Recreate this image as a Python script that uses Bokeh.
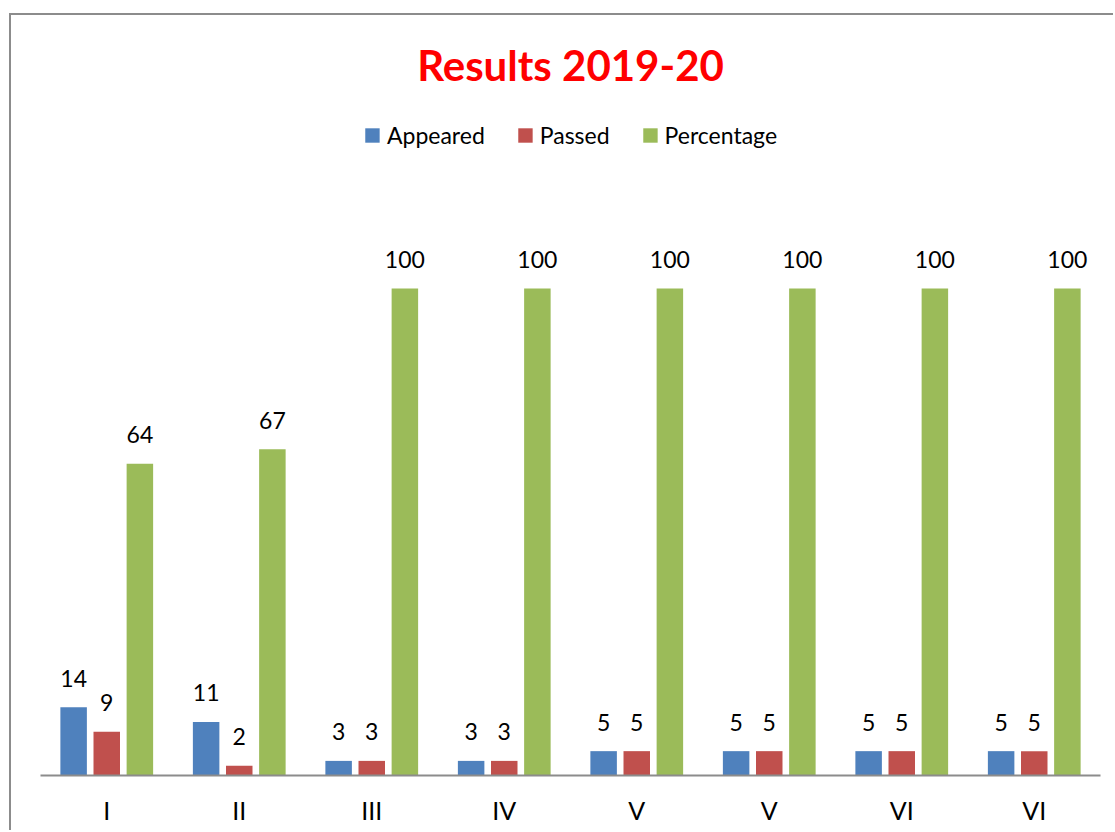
from bokeh.plotting import figure
from bokeh.models import ColumnDataSource, Range1d, FixedTicker
from bokeh.transform import dodge
from bokeh.core.properties import value
from bokeh.embed import file_html
from bokeh.resources import INLINE

title_text = "Results 2019-20"
categories = ["I", "II", "III", "IV", "V", "V", "VI", "VI"]
appeared = [14, 11, 3, 3, 5, 5, 5, 5]
passed = [9, 2, 3, 3, 5, 5, 5, 5]
percentage = [64, 67, 100, 100, 100, 100, 100, 100]

series_names = ["Appeared", "Passed", "Percentage"]
colors = ["#4f81bd", "#c0504d", "#9bbb59"]

positions = list(range(len(categories)))
src = ColumnDataSource(dict(
    x=positions,
    appeared=appeared, passed=passed, percentage=percentage,
    appeared_lbl=[str(v) for v in appeared],
    passed_lbl=[str(v) for v in passed],
    percentage_lbl=[str(v) for v in percentage],
))

FONT = "Lato"
p = figure(width=1104, height=817, output_backend="svg", toolbar_location=None,
           x_range=Range1d(-0.5, len(categories) - 0.5), y_range=Range1d(0, 138.6),
           min_border_left=29, min_border_right=15, min_border_top=85, min_border_bottom=57,
           styles={"margin-top": "13px", "margin-left": "9px",
                   "border-left": "2px solid #8c8c8c",
                   "border-top": "2px solid #8c8c8c"})
p.outline_line_color = None
p.grid.grid_line_color = None
p.yaxis.visible = False

p.title.text = title_text
p.title.align = "center"
p.title.text_font = FONT
p.title.text_font_style = "bold"
p.title.text_font_size = "42px"
p.title.text_color = "#ff0000"
p.title.standoff = 21

offsets = [-0.25, 0.0, 0.25]
fields = ["appeared", "passed", "percentage"]
for f, off, c, name in zip(fields, offsets, colors, series_names):
    p.vbar(x=dodge("x", off, range=p.x_range), top=f, width=0.2, bottom=0,
           source=src, fill_color=c, line_color=None, legend_label=name)
    p.text(x=dodge("x", off, range=p.x_range), y=f, text=f + "_lbl", source=src,
           text_align="center", text_baseline="alphabetic", y_offset=-29,
           text_font=value(FONT), text_font_size="23px", text_color="#000000")

ax = p.xaxis[0]
ax.ticker = FixedTicker(ticks=positions)
ax.major_label_overrides = {i: c for i, c in zip(positions, categories)}
ax.major_tick_line_color = None
ax.minor_tick_line_color = None
ax.axis_line_color = "#8c8c8c"
ax.axis_line_width = 2
ax.major_label_text_font = FONT
ax.major_label_text_font_size = "25px"
ax.major_label_text_color = "#000000"
ax.major_label_standoff = 13

lg = p.legend[0]
lg.orientation = "horizontal"
lg.location = "top_center"
lg.margin = 21
lg.padding = 0
lg.spacing = 31
lg.glyph_width = 18
lg.glyph_height = 18
lg.label_standoff = 6
lg.label_text_font = FONT
lg.label_text_font_size = "23px"
lg.label_text_color = "#000000"
lg.border_line_color = None
lg.background_fill_alpha = 0

open("out.html", "w").write(file_html(p, INLINE))
